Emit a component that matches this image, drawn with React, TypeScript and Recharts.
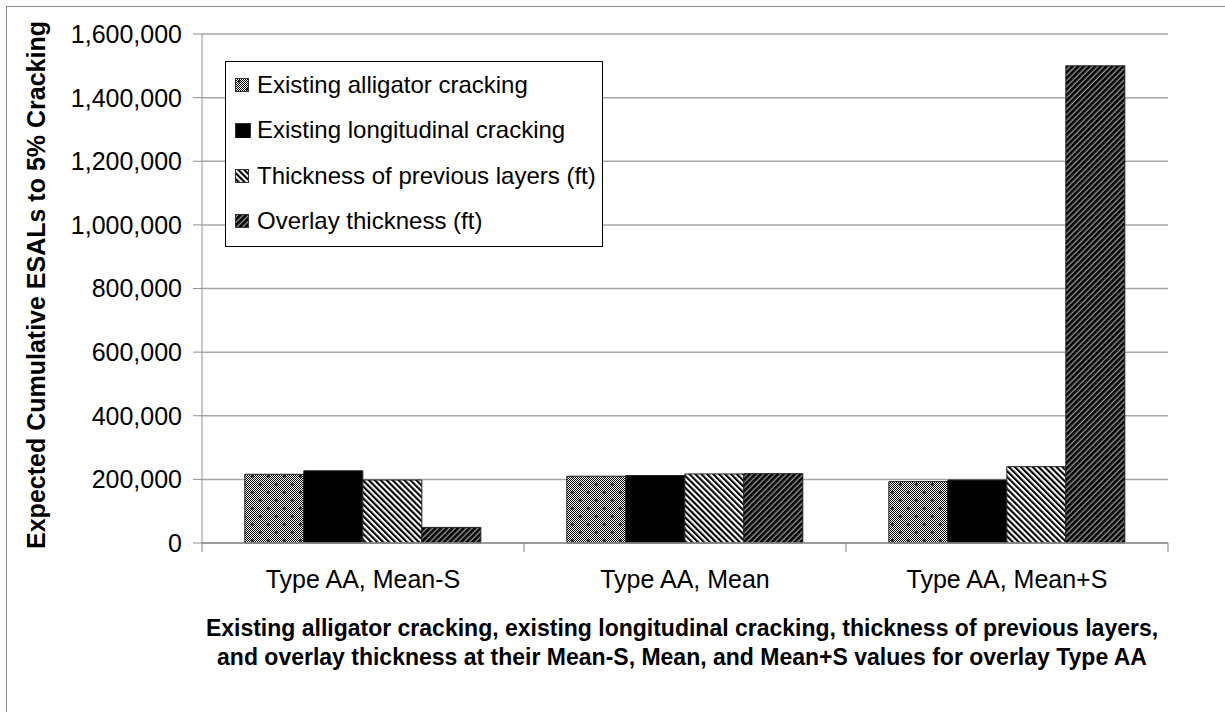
import React from "react";
import { BarChart, Bar, XAxis, YAxis, CartesianGrid, Legend } from "recharts";

const categories = ["Type AA, Mean-S", "Type AA, Mean", "Type AA, Mean+S"];
const alligatorValues = [216000, 210000, 193000];
const longitudinalValues = [227000, 212000, 198000];
const previousLayersValues = [198000, 217000, 240000];
const overlayValues = [49000, 218000, 1500000];
const yTicks = [0, 200000, 400000, 600000, 800000, 1000000, 1200000, 1400000, 1600000];

const seriesNames = [
  "Existing alligator cracking",
  "Existing longitudinal cracking",
  "Thickness of previous layers (ft)",
  "Overlay thickness (ft)",
];
const seriesKeys = ["alligator", "longitudinal", "previous", "overlay"];
const seriesFills = ["url(#pAlli)", "#000000", "url(#pPrev)", "url(#pOver)"];

const data = categories.map((name, i) => ({
  name,
  alligator: alligatorValues[i],
  longitudinal: longitudinalValues[i],
  previous: previousLayersValues[i],
  overlay: overlayValues[i],
}));

const FONT = '"Liberation Sans", Arial, sans-serif';

function PatternDefs() {
  return (
    <svg width={0} height={0} style={{ position: "absolute" }}>
      <defs>
        <pattern id="pCheck" patternUnits="userSpaceOnUse" width={2} height={2}>
          <rect width={2} height={2} fill="#ffffff" />
          <rect x={0} y={0} width={1} height={1} fill="#000" />
          <rect x={1} y={1} width={1} height={1} fill="#000" />
        </pattern>
        <pattern id="pAlli" patternUnits="userSpaceOnUse" width={16} height={16}>
          <rect width={16} height={16} fill="url(#pCheck)" />
          <path d="M4 3v3M3 4h3M12 11v3M11 12h3" stroke="#000" strokeWidth={1} />
        </pattern>
        <pattern
          id="pPrev"
          patternUnits="userSpaceOnUse"
          width={4.2}
          height={4.2}
          patternTransform="rotate(-45)"
        >
          <rect width={4.2} height={4.2} fill="#ffffff" />
          <rect width={2.1} height={4.2} fill="#000000" />
        </pattern>
        <pattern
          id="pOver"
          patternUnits="userSpaceOnUse"
          width={4}
          height={4}
          patternTransform="rotate(45)"
        >
          <rect width={4} height={4} fill="#9a9a9a" />
          <rect width={2.7} height={4} fill="#000000" />
        </pattern>
      </defs>
    </svg>
  );
}

function CategoryTick(props: any) {
  const { x, y, payload, index, width, visibleTicksCount } = props;
  const band = (width || 966) / (visibleTicksCount || 3);
  const left = x - band / 2;
  const right = x + band / 2;
  return (
    <g>
      <line x1={left} y1={y} x2={left} y2={y + 9} stroke="#808080" />
      {index === (visibleTicksCount || 3) - 1 && (
        <line x1={right} y1={y} x2={right} y2={y + 9} stroke="#808080" />
      )}
      <text
        x={x}
        y={y + 27}
        dy="0.71em"
        textAnchor="middle"
        fontSize={25}
        fill="#000"
        fontFamily={FONT}
      >
        {payload.value}
      </text>
    </g>
  );
}

function LegendBox() {
  return (
    <div
      style={{
        width: 376,
        height: 184,
        border: "1px solid #000",
        background: "#fff",
        fontFamily: FONT,
        fontSize: 24,
        color: "#000",
        boxSizing: "content-box",
      }}
    >
      {seriesNames.map((n, i) => (
        <div
          key={n}
          style={{
            height: 45.5,
            display: "flex",
            alignItems: "center",
            whiteSpace: "nowrap",
          }}
        >
          <svg width={16} height={16} style={{ marginLeft: 9, marginRight: 6 }}>
            <rect
              x={0.5}
              y={1.5}
              width={i === 1 ? 15 : 13}
              height={i === 1 ? 15 : 13}
              fill={seriesFills[i]}
              stroke="#333"
              strokeWidth={1}
            />
          </svg>
          <span>{n}</span>
        </div>
      ))}
    </div>
  );
}

export default function App() {
  return (
    <div
      style={{
        position: "absolute",
        left: 0,
        top: 0,
        width: 1225,
        height: 712,
        background: "#fff",
        overflow: "hidden",
        fontFamily: FONT,
      }}
    >
      <PatternDefs />
      <div
        style={{
          position: "absolute",
          left: 6,
          top: 6,
          width: 1219,
          height: 706,
          borderLeft: "1px solid #888",
          borderTop: "1px solid #888",
          boxSizing: "border-box",
        }}
      />
      <BarChart
        width={1225}
        height={712}
        data={data}
        margin={{ top: 34, right: 57, bottom: 129, left: 0 }}
        barCategoryGap="13.3%"
        barGap={0}
        style={{ position: "absolute", left: 0, top: 0 }}
      >
        <CartesianGrid vertical={false} stroke="#a6a6a6" strokeWidth={1.5} />
        <XAxis
          dataKey="name"
          height={40}
          tickSize={0}
          tickMargin={0}
          axisLine={{ stroke: "#909090", strokeWidth: 1.5 }}
          tickLine={false}
          tick={<CategoryTick />}
          interval={0}
        />
        <YAxis
          width={202}
          domain={[0, 1600000]}
          ticks={yTicks}
          interval={0}
          tickSize={9}
          tickMargin={11}
          axisLine={{ stroke: "#909090" }}
          tickLine={{ stroke: "#909090" }}
          tick={{ fontSize: 25, fill: "#000", fontFamily: FONT }}
          tickFormatter={(v: number) => v.toLocaleString("en-US")}
        />
        <Legend
          layout="vertical"
          align="center"
          verticalAlign="middle"
          content={() => <LegendBox />}
          wrapperStyle={{ left: 225, top: 61, width: 378, height: 186 }}
        />
        {seriesKeys.map((k, i) => (
          <Bar
            key={k}
            dataKey={k}
            name={seriesNames[i]}
            fill={seriesFills[i]}
            stroke="#222"
            strokeWidth={1}
            isAnimationActive={false}
          />
        ))}
      </BarChart>
      <svg
        width={1225}
        height={712}
        style={{ position: "absolute", left: 0, top: 0, pointerEvents: "none" }}
      >
        <text
          transform="translate(45,285) rotate(-90)"
          textAnchor="middle"
          fontSize={25}
          fontWeight="bold"
          fontFamily={FONT}
          fill="#000"
        >
          Expected Cumulative ESALs to 5% Cracking
        </text>
        <text
          x={682}
          y={636}
          textAnchor="middle"
          fontSize={23}
          fontWeight="bold"
          fontFamily={FONT}
          fill="#000"
        >
          Existing alligator cracking, existing longitudinal cracking, thickness of previous layers,
        </text>
        <text
          x={682}
          y={665}
          textAnchor="middle"
          fontSize={23}
          fontWeight="bold"
          fontFamily={FONT}
          fill="#000"
        >
          and overlay thickness at their Mean-S, Mean, and Mean+S values for overlay Type AA
        </text>
      </svg>
    </div>
  );
}
